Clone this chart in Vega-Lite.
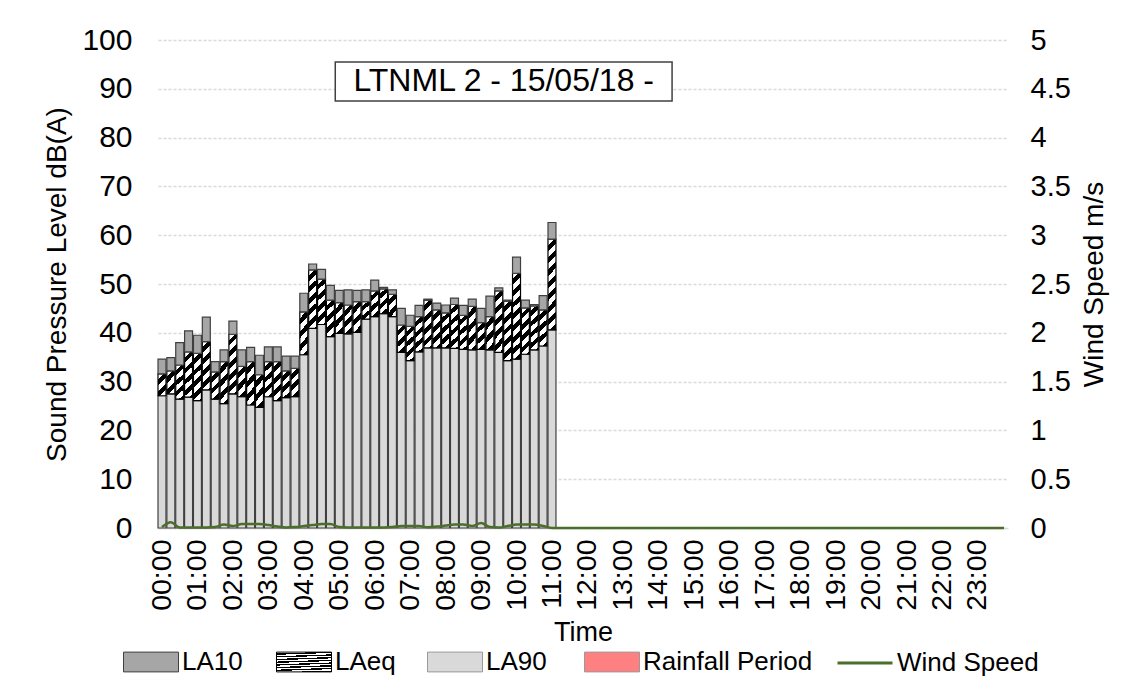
{
  "$schema": "https://vega.github.io/schema/vega-lite/v6.json",
  "width": 850,
  "height": 488,
  "autosize": {"type": "none"},
  "padding": {"left": 158, "top": 40, "right": 121, "bottom": 165},
  "background": "white",
  "config": {
    "view": {"stroke": null},
    "font": "Liberation Sans",
    "axis": {"labelColor": "black", "titleColor": "black", "titleFontWeight": "normal", "labelFont": "Liberation Sans", "titleFont": "Liberation Sans"},
    "legend": {"labelFont": "Liberation Sans", "labelColor": "black", "labelFontSize": 26, "labelOffset": 3, "labelLimit": 0, "symbolSize": 3025, "symbolStrokeWidth": 1, "symbolOpacity": 1}
  },
  "data": {"values": [
    {"time": "00:00", "LA10": 34.6, "LAeq": 31.6, "LA90": 27.1, "wind": 0.01},
    {"time": "00:15", "LA10": 34.9, "LAeq": 32.2, "LA90": 27.5, "wind": 0.06},
    {"time": "00:30", "LA10": 38.0, "LAeq": 33.4, "LA90": 26.4, "wind": 0.005},
    {"time": "00:45", "LA10": 40.4, "LAeq": 36.1, "LA90": 26.8, "wind": 0.005},
    {"time": "01:00", "LA10": 39.5, "LAeq": 35.8, "LA90": 26.1, "wind": 0.005},
    {"time": "01:15", "LA10": 43.2, "LAeq": 38.2, "LA90": 28.3, "wind": 0.005},
    {"time": "01:30", "LA10": 34.1, "LAeq": 32.0, "LA90": 26.4, "wind": 0.01},
    {"time": "01:45", "LA10": 36.5, "LAeq": 34.1, "LA90": 25.5, "wind": 0.035},
    {"time": "02:00", "LA10": 42.4, "LAeq": 39.7, "LA90": 27.5, "wind": 0.02},
    {"time": "02:15", "LA10": 36.5, "LAeq": 33.1, "LA90": 26.9, "wind": 0.04},
    {"time": "02:30", "LA10": 37.0, "LAeq": 34.1, "LA90": 25.2, "wind": 0.04},
    {"time": "02:45", "LA10": 35.4, "LAeq": 31.4, "LA90": 24.7, "wind": 0.04},
    {"time": "03:00", "LA10": 37.1, "LAeq": 34.1, "LA90": 26.9, "wind": 0.03},
    {"time": "03:15", "LA10": 37.1, "LAeq": 34.1, "LA90": 26.1, "wind": 0.015},
    {"time": "03:30", "LA10": 35.2, "LAeq": 32.2, "LA90": 26.7, "wind": 0.005},
    {"time": "03:45", "LA10": 35.2, "LAeq": 32.7, "LA90": 26.9, "wind": 0.01},
    {"time": "04:00", "LA10": 48.1, "LAeq": 44.3, "LA90": 35.5, "wind": 0.02},
    {"time": "04:15", "LA10": 54.1, "LAeq": 52.9, "LA90": 40.9, "wind": 0.03},
    {"time": "04:30", "LA10": 53.0, "LAeq": 51.0, "LA90": 41.7, "wind": 0.04},
    {"time": "04:45", "LA10": 49.7, "LAeq": 46.7, "LA90": 39.2, "wind": 0.04},
    {"time": "05:00", "LA10": 48.7, "LAeq": 46.2, "LA90": 39.9, "wind": 0.01},
    {"time": "05:15", "LA10": 48.8, "LAeq": 45.7, "LA90": 39.8, "wind": 0.005},
    {"time": "05:30", "LA10": 48.7, "LAeq": 46.4, "LA90": 40.1, "wind": 0.005},
    {"time": "05:45", "LA10": 48.8, "LAeq": 46.4, "LA90": 42.8, "wind": 0.005},
    {"time": "06:00", "LA10": 50.8, "LAeq": 48.6, "LA90": 43.3, "wind": 0.005},
    {"time": "06:15", "LA10": 49.3, "LAeq": 49.0, "LA90": 43.9, "wind": 0.005},
    {"time": "06:30", "LA10": 48.8, "LAeq": 47.9, "LA90": 43.3, "wind": 0.01},
    {"time": "06:45", "LA10": 45.0, "LAeq": 41.6, "LA90": 36.0, "wind": 0.02},
    {"time": "07:00", "LA10": 43.6, "LAeq": 41.3, "LA90": 34.3, "wind": 0.02},
    {"time": "07:15", "LA10": 45.6, "LAeq": 43.3, "LA90": 36.1, "wind": 0.02},
    {"time": "07:30", "LA10": 46.9, "LAeq": 46.7, "LA90": 36.9, "wind": 0.008},
    {"time": "07:45", "LA10": 46.1, "LAeq": 44.7, "LA90": 36.9, "wind": 0.015},
    {"time": "08:00", "LA10": 45.7, "LAeq": 44.1, "LA90": 36.9, "wind": 0.025},
    {"time": "08:15", "LA10": 47.1, "LAeq": 45.8, "LA90": 36.8, "wind": 0.035},
    {"time": "08:30", "LA10": 45.6, "LAeq": 43.6, "LA90": 36.6, "wind": 0.035},
    {"time": "08:45", "LA10": 46.9, "LAeq": 45.4, "LA90": 36.5, "wind": 0.02},
    {"time": "09:00", "LA10": 45.0, "LAeq": 42.1, "LA90": 36.6, "wind": 0.05},
    {"time": "09:15", "LA10": 47.5, "LAeq": 43.3, "LA90": 36.5, "wind": 0.01},
    {"time": "09:30", "LA10": 49.2, "LAeq": 48.6, "LA90": 36.0, "wind": 0.005},
    {"time": "09:45", "LA10": 46.7, "LAeq": 46.5, "LA90": 34.3, "wind": 0.02},
    {"time": "10:00", "LA10": 55.5, "LAeq": 52.2, "LA90": 34.6, "wind": 0.035},
    {"time": "10:15", "LA10": 46.7, "LAeq": 45.1, "LA90": 35.6, "wind": 0.035},
    {"time": "10:30", "LA10": 45.8, "LAeq": 45.5, "LA90": 36.5, "wind": 0.035},
    {"time": "10:45", "LA10": 47.6, "LAeq": 44.7, "LA90": 37.3, "wind": 0.02},
    {"time": "11:00", "LA10": 62.6, "LAeq": 59.2, "LA90": 40.6, "wind": 0.0},
    {"time": "11:15", "wind": 0}, {"time": "11:30", "wind": 0}, {"time": "11:45", "wind": 0},
    {"time": "12:00", "wind": 0}, {"time": "12:15", "wind": 0}, {"time": "12:30", "wind": 0}, {"time": "12:45", "wind": 0},
    {"time": "13:00", "wind": 0}, {"time": "13:15", "wind": 0}, {"time": "13:30", "wind": 0}, {"time": "13:45", "wind": 0},
    {"time": "14:00", "wind": 0}, {"time": "14:15", "wind": 0}, {"time": "14:30", "wind": 0}, {"time": "14:45", "wind": 0},
    {"time": "15:00", "wind": 0}, {"time": "15:15", "wind": 0}, {"time": "15:30", "wind": 0}, {"time": "15:45", "wind": 0},
    {"time": "16:00", "wind": 0}, {"time": "16:15", "wind": 0}, {"time": "16:30", "wind": 0}, {"time": "16:45", "wind": 0},
    {"time": "17:00", "wind": 0}, {"time": "17:15", "wind": 0}, {"time": "17:30", "wind": 0}, {"time": "17:45", "wind": 0},
    {"time": "18:00", "wind": 0}, {"time": "18:15", "wind": 0}, {"time": "18:30", "wind": 0}, {"time": "18:45", "wind": 0},
    {"time": "19:00", "wind": 0}, {"time": "19:15", "wind": 0}, {"time": "19:30", "wind": 0}, {"time": "19:45", "wind": 0},
    {"time": "20:00", "wind": 0}, {"time": "20:15", "wind": 0}, {"time": "20:30", "wind": 0}, {"time": "20:45", "wind": 0},
    {"time": "21:00", "wind": 0}, {"time": "21:15", "wind": 0}, {"time": "21:30", "wind": 0}, {"time": "21:45", "wind": 0},
    {"time": "22:00", "wind": 0}, {"time": "22:15", "wind": 0}, {"time": "22:30", "wind": 0}, {"time": "22:45", "wind": 0},
    {"time": "23:00", "wind": 0}, {"time": "23:15", "wind": 0}, {"time": "23:30", "wind": 0}, {"time": "23:45", "wind": 0}
  ]},
  "encoding": {
    "x": {
      "field": "time", "type": "ordinal",
      "scale": {"paddingInner": 0.1, "paddingOuter": 0},
      "axis": {
        "title": "Time",
        "labelExpr": "substring(datum.value, 3, 5) === '00' ? datum.value : ''",
        "labelAngle": -90, "labelFontSize": 28.5, "labelPadding": 11, "labelOverlap": false, "labelFlush": false, "labelBound": false,
        "ticks": false, "domainColor": "#d9d9d9", "domainWidth": 1.5,
        "titleFontSize": 27, "titlePadding": 9, "grid": false
      }
    }
  },
  "layer": [
    {
      "layer": [
        {
          "mark": {"type": "bar", "stroke": "#404040", "strokeWidth": 1.2},
          "encoding": {
            "y": {
              "field": "LA90", "type": "quantitative",
              "scale": {"domain": [0, 100], "nice": false},
              "axis": {
                "title": "Sound Pressure Level dB(A)",
                "values": [0, 10, 20, 30, 40, 50, 60, 70, 80, 90, 100],
                "labelFontSize": 30, "labelPadding": 26, "ticks": false, "domain": false,
                "grid": true, "gridColor": "#d9d9d9", "gridDash": [3, 2], "gridWidth": 1.5,
                "titleFontSize": 28, "titlePadding": 10
              }
            },
            "color": {
              "datum": "LA90", "type": "nominal",
              "scale": {"domain": ["LA90", "Rainfall Period"], "range": ["#d9d9d9", "#ff8080"]},
              "legend": {
                "title": null, "orient": "none", "legendX": 269, "legendY": 594,
                "direction": "horizontal", "columnPadding": 35,
                "symbolType": "M-1,-0.36H1V0.36H-1Z", "symbolStrokeColor": "#9a9a9a"
              }
            }
          }
        },
        {
          "mark": {"type": "bar", "stroke": "#000000", "strokeWidth": 1.2},
          "encoding": {
            "y": {"field": "LAeq", "type": "quantitative"},
            "y2": {"field": "LA90"},
            "opacity": {
              "datum": "LAeq", "type": "nominal",
              "scale": {"domain": ["LAeq"], "range": [1]},
              "legend": {
                "title": null, "orient": "none", "legendX": 118, "legendY": 594,
                "symbolType": "M-1,-0.36H1V0.36H-1Z",
                "encode": {
                  "symbols": {
                    "fill": {"value": {"gradient": "linear", "x1": 0, "y1": 0, "x2": 1.204, "y2": 0.438, "stops": [
                      {"offset": 0, "color": "white"}, {"offset": 0.12, "color": "white"}, {"offset": 0.12, "color": "black"}, {"offset": 0.24, "color": "black"},
                      {"offset": 0.24, "color": "white"}, {"offset": 0.36, "color": "white"}, {"offset": 0.36, "color": "black"}, {"offset": 0.48, "color": "black"},
                      {"offset": 0.48, "color": "white"}, {"offset": 0.6, "color": "white"}, {"offset": 0.6, "color": "black"}, {"offset": 0.72, "color": "black"},
                      {"offset": 0.72, "color": "white"}, {"offset": 0.84, "color": "white"}, {"offset": 0.84, "color": "black"}, {"offset": 0.96, "color": "black"},
                      {"offset": 0.96, "color": "white"}, {"offset": 1, "color": "white"}]}},
                    "stroke": {"value": "#000000"}
                  }
                }
              }
            },
            "fill": {
              "condition": [
                {"test": "datum.LAeq - datum.LA90 < 5", "value": {"gradient": "linear", "x1": 0, "y1": 0, "x2": 0.444, "y2": 1.205, "stops": [
                  {"offset": 0, "color": "white"}, {"offset": 0.199, "color": "white"}, {"offset": 0.199, "color": "black"}, {"offset": 0.399, "color": "black"},
                  {"offset": 0.399, "color": "white"}, {"offset": 0.598, "color": "white"}, {"offset": 0.598, "color": "black"}, {"offset": 0.797, "color": "black"},
                  {"offset": 0.797, "color": "white"}, {"offset": 0.997, "color": "white"}, {"offset": 0.997, "color": "black"}, {"offset": 1, "color": "black"}]}},
                {"test": "datum.LAeq - datum.LA90 < 7", "value": {"gradient": "linear", "x1": 0, "y1": 0, "x2": 0.332, "y2": 1.187, "stops": [
                  {"offset": 0, "color": "white"}, {"offset": 0.162, "color": "white"}, {"offset": 0.162, "color": "black"}, {"offset": 0.324, "color": "black"},
                  {"offset": 0.324, "color": "white"}, {"offset": 0.485, "color": "white"}, {"offset": 0.485, "color": "black"}, {"offset": 0.647, "color": "black"},
                  {"offset": 0.647, "color": "white"}, {"offset": 0.809, "color": "white"}, {"offset": 0.809, "color": "black"}, {"offset": 0.971, "color": "black"},
                  {"offset": 0.971, "color": "white"}, {"offset": 1, "color": "white"}]}},
                {"test": "datum.LAeq - datum.LA90 < 9", "value": {"gradient": "linear", "x1": 0, "y1": 0, "x2": 0.241, "y2": 1.158, "stops": [
                  {"offset": 0, "color": "white"}, {"offset": 0.127, "color": "white"}, {"offset": 0.127, "color": "black"}, {"offset": 0.255, "color": "black"},
                  {"offset": 0.255, "color": "white"}, {"offset": 0.382, "color": "white"}, {"offset": 0.382, "color": "black"}, {"offset": 0.51, "color": "black"},
                  {"offset": 0.51, "color": "white"}, {"offset": 0.637, "color": "white"}, {"offset": 0.637, "color": "black"}, {"offset": 0.764, "color": "black"},
                  {"offset": 0.764, "color": "white"}, {"offset": 0.892, "color": "white"}, {"offset": 0.892, "color": "black"}, {"offset": 1, "color": "black"}]}},
                {"test": "datum.LAeq - datum.LA90 < 11", "value": {"gradient": "linear", "x1": 0, "y1": 0, "x2": 0.188, "y2": 1.134, "stops": [
                  {"offset": 0, "color": "white"}, {"offset": 0.105, "color": "white"}, {"offset": 0.105, "color": "black"}, {"offset": 0.21, "color": "black"},
                  {"offset": 0.21, "color": "white"}, {"offset": 0.315, "color": "white"}, {"offset": 0.315, "color": "black"}, {"offset": 0.42, "color": "black"},
                  {"offset": 0.42, "color": "white"}, {"offset": 0.526, "color": "white"}, {"offset": 0.526, "color": "black"}, {"offset": 0.631, "color": "black"},
                  {"offset": 0.631, "color": "white"}, {"offset": 0.736, "color": "white"}, {"offset": 0.736, "color": "black"}, {"offset": 0.841, "color": "black"},
                  {"offset": 0.841, "color": "white"}, {"offset": 0.946, "color": "white"}, {"offset": 0.946, "color": "black"}, {"offset": 1, "color": "black"}]}},
                {"test": "datum.LAeq - datum.LA90 < 14", "value": {"gradient": "linear", "x1": 0, "y1": 0, "x2": 0.148, "y2": 1.113, "stops": [
                  {"offset": 0, "color": "white"}, {"offset": 0.087, "color": "white"}, {"offset": 0.087, "color": "black"}, {"offset": 0.174, "color": "black"},
                  {"offset": 0.174, "color": "white"}, {"offset": 0.261, "color": "white"}, {"offset": 0.261, "color": "black"}, {"offset": 0.347, "color": "black"},
                  {"offset": 0.347, "color": "white"}, {"offset": 0.434, "color": "white"}, {"offset": 0.434, "color": "black"}, {"offset": 0.521, "color": "black"},
                  {"offset": 0.521, "color": "white"}, {"offset": 0.608, "color": "white"}, {"offset": 0.608, "color": "black"}, {"offset": 0.695, "color": "black"},
                  {"offset": 0.695, "color": "white"}, {"offset": 0.782, "color": "white"}, {"offset": 0.782, "color": "black"}, {"offset": 0.869, "color": "black"},
                  {"offset": 0.869, "color": "white"}, {"offset": 0.955, "color": "white"}, {"offset": 0.955, "color": "black"}, {"offset": 1, "color": "black"}]}}
              ],
              "value": {"gradient": "linear", "x1": 0, "y1": 0, "x2": 0.1, "y2": 1.083, "stops": [
                {"offset": 0, "color": "white"}, {"offset": 0.062, "color": "white"}, {"offset": 0.062, "color": "black"}, {"offset": 0.125, "color": "black"},
                {"offset": 0.125, "color": "white"}, {"offset": 0.187, "color": "white"}, {"offset": 0.187, "color": "black"}, {"offset": 0.25, "color": "black"},
                {"offset": 0.25, "color": "white"}, {"offset": 0.312, "color": "white"}, {"offset": 0.312, "color": "black"}, {"offset": 0.375, "color": "black"},
                {"offset": 0.375, "color": "white"}, {"offset": 0.437, "color": "white"}, {"offset": 0.437, "color": "black"}, {"offset": 0.5, "color": "black"},
                {"offset": 0.5, "color": "white"}, {"offset": 0.562, "color": "white"}, {"offset": 0.562, "color": "black"}, {"offset": 0.625, "color": "black"},
                {"offset": 0.625, "color": "white"}, {"offset": 0.687, "color": "white"}, {"offset": 0.687, "color": "black"}, {"offset": 0.75, "color": "black"},
                {"offset": 0.75, "color": "white"}, {"offset": 0.812, "color": "white"}, {"offset": 0.812, "color": "black"}, {"offset": 0.874, "color": "black"},
                {"offset": 0.874, "color": "white"}, {"offset": 0.937, "color": "white"}, {"offset": 0.937, "color": "black"}, {"offset": 0.999, "color": "black"},
                {"offset": 0.999, "color": "white"}, {"offset": 1, "color": "white"}]}
            }
          }
        },
        {
          "mark": {"type": "bar", "stroke": "#404040", "strokeWidth": 1.2},
          "encoding": {
            "y": {"field": "LA10", "type": "quantitative"},
            "y2": {"field": "LAeq"},
            "fill": {
              "datum": "LA10", "type": "nominal",
              "scale": {"domain": ["LA10"], "range": ["#a6a6a6"]},
              "legend": {
                "title": null, "orient": "none", "legendX": -35, "legendY": 594,
                "symbolType": "M-1,-0.36H1V0.36H-1Z", "symbolStrokeColor": "#404040"
              }
            }
          }
        },
        {
          "data": {"values": [{}]},
          "mark": {"type": "rect", "fill": "white", "stroke": "#404040", "strokeWidth": 1.5},
          "encoding": {
            "x": {"datum": "05:00", "bandPosition": 0},
            "x2": {"datum": "14:30", "bandPosition": 0},
            "y": {"datum": 95.5},
            "y2": {"datum": 87.5}
          }
        },
        {
          "data": {"values": [{}]},
          "mark": {"type": "text", "text": "LTNML 2 - 15/05/18 -", "fontSize": 32, "font": "Liberation Sans", "fill": "black", "align": "center", "baseline": "middle"},
          "encoding": {
            "x": {"datum": "09:45", "bandPosition": 0},
            "y": {"datum": 91.5}
          }
        }
      ]
    },
    {
      "mark": {"type": "line", "strokeWidth": 2.5, "interpolate": "monotone"},
      "encoding": {
        "y": {
          "field": "wind", "type": "quantitative",
          "scale": {"domain": [0, 5], "nice": false},
          "axis": {
            "orient": "right", "title": "Wind Speed m/s",
            "values": [0, 0.5, 1, 1.5, 2, 2.5, 3, 3.5, 4, 4.5, 5], "format": "~g",
            "labelFontSize": 29, "labelPadding": 22, "ticks": false, "domain": false, "grid": false,
            "titleFontSize": 28, "titlePadding": 10, "titleAngle": 270, "titleBaseline": "top"
          }
        },
        "stroke": {
          "datum": "Wind Speed", "type": "nominal",
          "scale": {"domain": ["Wind Speed"], "range": ["#4b6e2b"]},
          "legend": {
            "title": null, "orient": "none", "legendX": 678, "legendY": 594,
            "symbolStrokeWidth": 3, "symbolType": "stroke"
          }
        }
      }
    }
  ],
  "resolve": {"scale": {"y": "independent"}}
}
